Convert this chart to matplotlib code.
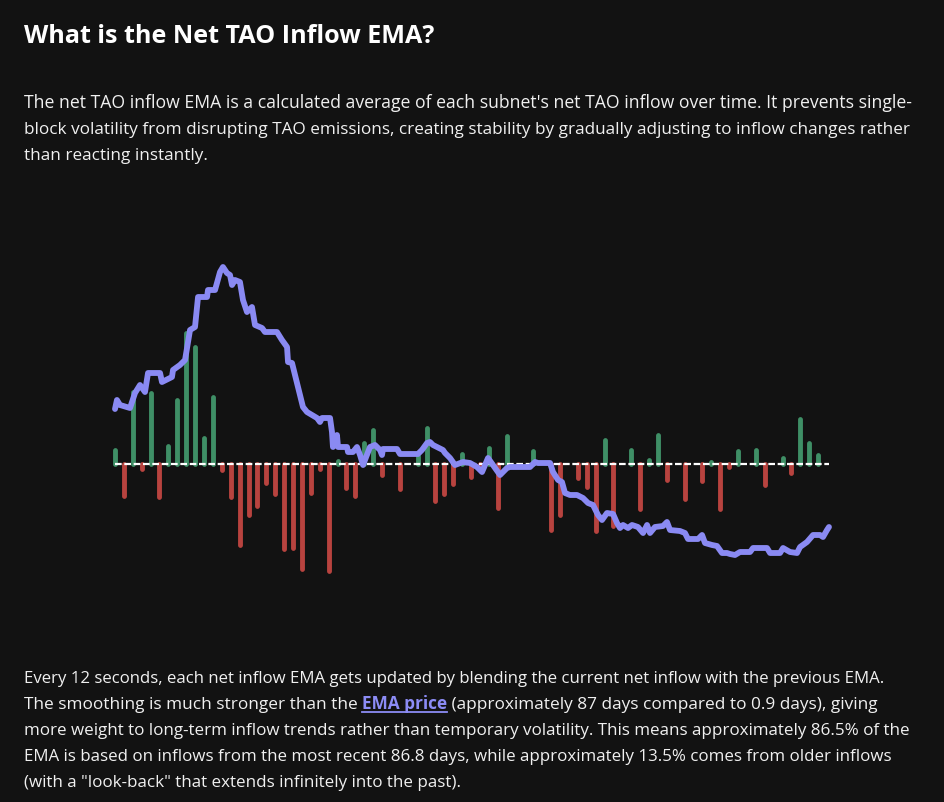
import numpy as np
import matplotlib.pyplot as plt
from matplotlib.lines import Line2D

W, H, DPI = 944, 802, 100
BG = "#121212"
TXT = "#f0f0f0"
GREEN = "#3f8f66"
RED = "#b8433f"
PURPLE = "#8a8af3"
LINK = "#8c8cf5"
FONT = ["Open Sans", "DejaVu Sans"]

# net inflow per block (arbitrary units, + inflow / - outflow)
inflow = [14, -32, 72, -5, 71, -33, 18, 64, 131, 117,
          26, 67, -6, -33, -81, -51, -42, -19, -30, -85,
          -84, -105, -29, -5, -107, 3, -24, -32, 21, 34,
          -11, 0, -25, 0, 8, 36, -37, -30, -20, 10,
          -13, -5, 16, -44, 28, 0, 0, 13, 0, -66,
          -51, 0, -14, -23, -67, 24, -62, 0, 14, -45,
          4, 29, -16, 0, -35, 0, -17, 2, -45, -3,
          13, 0, 14, -21, 0, 6, -9, 45, 21, 9]

# EMA trace (x in block units)
ema_t = [0.00, 0.22, 0.56, 1.69, 2.25, 2.81, 3.37, 3.71, 5.06, 5.28,
         6.40, 6.52, 7.30, 7.87, 8.43, 8.99, 9.33, 10.34, 10.45, 11.24,
         11.80, 12.13, 12.58, 12.92, 13.15, 13.48, 14.04, 14.38, 14.83, 15.39,
         15.73, 16.52, 16.85, 18.20, 18.76, 19.33, 19.44, 19.89, 21.12, 21.57,
         22.13, 22.70, 23.03, 23.26, 24.16, 24.38, 24.49, 24.94, 25.06, 26.07,
         26.18, 26.74, 27.19, 27.53, 27.87, 28.31, 28.65, 29.21, 29.78, 30.00,
         30.11, 31.69, 32.02, 34.04, 34.49, 35.06, 35.39, 35.73, 36.18, 36.85,
         37.08, 37.64, 38.20, 39.10, 39.89, 40.67, 41.24, 41.91, 42.47, 43.26,
         43.60, 44.04, 44.38, 46.63, 47.19, 47.53, 48.88, 49.21, 49.78, 50.22,
         50.56, 51.12, 51.91, 52.58, 53.15, 53.71, 54.27, 54.72, 55.28, 55.96,
         56.40, 56.74, 57.08, 57.64, 58.09, 58.76, 59.33, 59.78, 60.11, 60.67,
         61.57, 62.02, 62.36, 63.48, 64.04, 64.38, 65.51, 65.96, 66.29, 67.08,
         67.64, 68.20, 68.76, 69.10, 69.66, 70.22, 71.35, 71.69, 73.26, 73.60,
         74.72, 75.06, 75.84, 76.63, 76.97, 77.75, 78.43, 79.21, 79.55, 80.00,
         80.22]
ema_v = [55, 64, 59, 56, 71, 79, 72, 91, 91, 82,
         87, 94, 99, 104, 134, 137, 167, 167, 174, 174,
         192, 197, 191, 189, 179, 184, 182, 164, 152, 157,
         139, 136, 132, 132, 124, 117, 102, 101, 57, 52,
         49, 46, 42, 46, 46, 32, 17, 29, 17, 17,
         12, 12, 17, 9, -1, 9, 17, 19, 14, 9,
         15, 15, 10, 10, 14, 21, 22, 19, 17, 14,
         11, 6, -1, 2, 1, -3, -8, 6, -1, -11,
         -8, -4, -3, -3, 2, 1, 1, -8, -16, -18,
         -29, -31, -31, -34, -39, -41, -51, -56, -49, -50,
         -59, -64, -61, -64, -61, -63, -69, -61, -69, -63,
         -62, -58, -66, -67, -69, -75, -75, -71, -79, -81,
         -82, -89, -89, -90, -91, -88, -88, -84, -84, -89,
         -89, -84, -88, -89, -83, -78, -71, -71, -73, -66,
         -63]

title = "What is the Net TAO Inflow EMA?"
intro = [
    "The net TAO inflow EMA is a calculated average of each subnet's net TAO inflow over time. It prevents single-",
    "block volatility from disrupting TAO emissions, creating stability by gradually adjusting to inflow changes rather",
    "than reacting instantly.",
]
intro_end = [912, 906, 207]
outro = [
    "Every 12 seconds, each net inflow EMA gets updated by blending the current net inflow with the previous EMA.",
    None,
    "more weight to long-term inflow trends rather than temporary volatility. This means approximately 86.5% of the",
    "EMA is based on inflows from the most recent 86.8 days, while approximately 13.5% comes from older inflows",
    "(with a \"look-back\" that extends infinitely into the past).",
]
outro_end = [888, 876, 911, 886, 463]
outro_link = ["The smoothing is much stronger than the ", "EMA price",
              " (approximately 87 days compared to 0.9 days), giving"]


def fx(x):
    return x / W


def fy(y):
    return 1 - y / H


def width_at10(fig, text, weight="normal"):
    r = fig.canvas.get_renderer()
    t = fig.text(0, 0, text, fontsize=10, family=FONT, weight=weight)
    w = t.get_window_extent(r).width
    t.remove()
    return w


def fit_size(fig, text, target, weight="normal"):
    return 10 * target / width_at10(fig, text, weight)


fig = plt.figure(figsize=(W / DPI, H / DPI), dpi=DPI, facecolor=BG)

# texts
ts = fit_size(fig, title, 411, "bold")
fig.text(fx(24), fy(43), title, fontsize=ts, family=FONT, weight="bold",
         color="white", va="baseline")

for i, line in enumerate(intro):
    s = fit_size(fig, line, intro_end[i] - 24)
    fig.text(fx(24), fy(108 + 26 * i), line, fontsize=s, family=FONT,
             color=TXT, va="baseline")

r = fig.canvas.get_renderer()
for i, line in enumerate(outro):
    yb = fy(683 + 26 * i)
    if line is not None:
        s = fit_size(fig, line, outro_end[i] - 24)
        fig.text(fx(24), yb, line, fontsize=s, family=FONT, color=TXT, va="baseline")
        continue
    # line with the bold link: size from the whole line width
    w = sum(width_at10(fig, seg, "bold" if j == 1 else "normal")
            for j, seg in enumerate(outro_link))
    s = 10 * (outro_end[i] - 24) / w
    x = fx(24)
    for j, seg in enumerate(outro_link):
        link = j == 1
        t = fig.text(x, yb, seg, fontsize=s, family=FONT, va="baseline",
                     color=LINK if link else TXT, weight="bold" if link else "normal")
        bb = t.get_window_extent(r)
        if link:
            fig.add_artist(Line2D([bb.x0 / W, bb.x1 / W], [yb - 3 / H, yb - 3 / H],
                                  color=LINK, lw=1.3))
        x = bb.x1 / W

# chart
ax = fig.add_axes([fx(100), fy(600), 745 / W, 360 / H])
ax.set_facecolor(BG)
ax.axis("off")

idx = np.arange(len(inflow))
vals = np.array(inflow)
m = vals != 0
cols = [GREEN if v > 0 else RED for v in vals[m]]
ax.vlines(idx[m], 0, vals[m], colors=cols, linewidth=3.5, capstyle="round", zorder=1)
ax.hlines(0, idx[0], ema_t[-1], colors="white", linestyles=(0, (3, 1.2)),
          linewidth=1.6, zorder=2)
ax.plot(ema_t, ema_v, color=PURPLE, lw=4.2, solid_joinstyle="round",
        solid_capstyle="round", zorder=3)

ax.set_xlim(-1.685, 82.02)
ax.set_ylim(-136, 224)

fig.savefig("out.png", dpi=DPI, facecolor=BG)
